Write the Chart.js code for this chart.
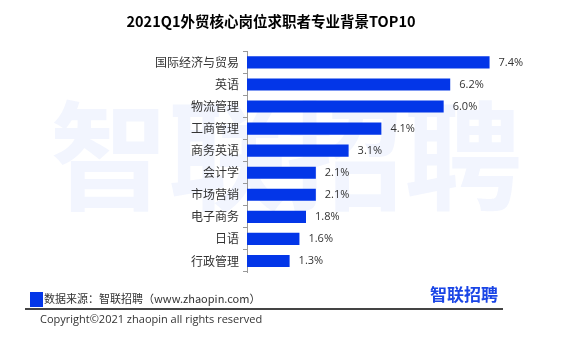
<!DOCTYPE html>
<html>
<head>
<meta charset="utf-8">
<script src="https://cdn.jsdelivr.net/npm/chart.js@4.4.1/dist/chart.umd.min.js"></script>
<style>
  body { margin: 0; background: #fff; }
  #wrap { position: relative; width: 582px; height: 340px; font-family: "Noto Sans CJK SC", sans-serif; }
  #chart { position: absolute; left: 0; top: 0; }
  .src-box { position: absolute; left: 30px; top: 292px; width: 13px; height: 15px; background: #0336e8; }
  .src { position: absolute; left: 44px; top: 290px; font-size: 11px; color: #333; line-height: 16px; }
  .rule { position: absolute; left: 25px; top: 308px; width: 478px; height: 2px; background: #444; }
  .copy { position: absolute; left: 40px; top: 311px; font-size: 11px; color: #333; line-height: 16px; font-family: "Open Sans", sans-serif; }
  .logo { position: absolute; left: 430px; top: 283px; font-size: 17px; font-weight: bold; color: #1a45e6; line-height: 22px; }
</style>
</head>
<body>
<div id="wrap">
  <canvas id="chart" width="582" height="340"></canvas>
  <div class="src-box"></div>
  <div class="src">数据来源：智联招聘（www.zhaopin.com）</div>
  <div class="rule"></div>
  <div class="copy">Copyright©2021 zhaopin all rights reserved</div>
  <div class="logo">智联招聘</div>
</div>
<script>
// Data
const majors = ["国际经济与贸易", "英语", "物流管理", "工商管理", "商务英语", "会计学", "市场营销", "电子商务", "日语", "行政管理"];
const shares = [7.4, 6.2, 6.0, 4.1, 3.1, 2.1, 2.1, 1.8, 1.6, 1.3];
const BAR_COLOR = "#0336e8";

// Faint watermark behind the chart
const watermark = {
  id: "watermark",
  beforeDraw(chart) {
    const ctx = chart.ctx;
    ctx.save();
    ctx.font = "bold 118px 'Noto Sans CJK SC'";
    ctx.fillStyle = "rgba(20, 70, 230, 0.055)";
    ctx.textBaseline = "middle";
    ctx.fillText("智联招聘", 50, 156);
    ctx.restore();
  }
};

// Percent labels at end of each bar
const valueLabels = {
  id: "valueLabels",
  afterDatasetsDraw(chart) {
    const ctx = chart.ctx;
    const meta = chart.getDatasetMeta(0);
    ctx.save();
    ctx.font = "11px 'Open Sans'";
    ctx.fillStyle = "#333";
    ctx.textBaseline = "middle";
    meta.data.forEach((bar, i) => {
      ctx.fillText(shares[i].toFixed(1) + "%", bar.x + 9, bar.y);
    });
    ctx.restore();
  }
};

new Chart(document.getElementById("chart"), {
  type: "bar",
  data: {
    labels: majors,
    datasets: [{
      data: shares,
      backgroundColor: BAR_COLOR,
      barPercentage: 0.55,
      categoryPercentage: 1
    }]
  },
  options: {
    indexAxis: "y",
    responsive: false,
    animation: false,
    layout: { padding: { left: 0, right: 40, top: 0, bottom: 68 } },
    plugins: {
      legend: { display: false },
      tooltip: { enabled: false },
      title: {
        display: true,
        text: "2021Q1外贸核心岗位求职者专业背景TOP10",
        color: "#000",
        font: { family: "Noto Sans CJK SC", size: 14.5, weight: "bold" },
        padding: { top: 13, bottom: 21 }
      }
    },
    scales: {
      x: { display: false, min: 0, max: 9 },
      y: {
        afterFit(scale) { scale.width = 247; },
        border: { display: true, color: "#999" },
        grid: { display: true, drawOnChartArea: false, offset: true, tickLength: 4, color: "#999" },
        ticks: { color: "#333", padding: 4, font: { family: "Noto Sans CJK SC", size: 12 } }
      }
    }
  },
  plugins: [watermark, valueLabels]
});
</script>
</body>
</html>
